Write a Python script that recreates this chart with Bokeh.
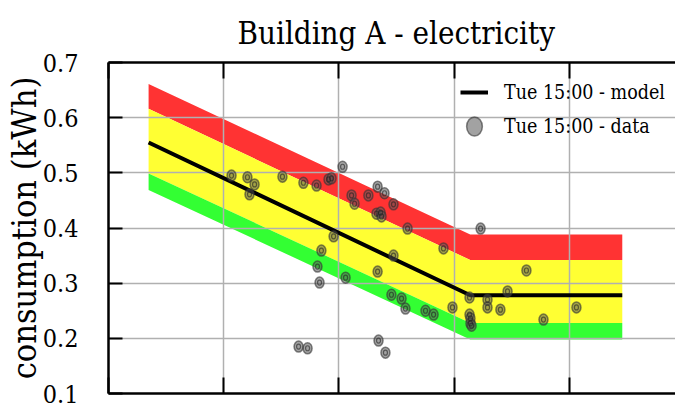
from bokeh.plotting import figure
from bokeh.models import (FixedTicker, LinearAxis, Legend, LegendItem,
                          ColumnDataSource, Range1d)
from bokeh.embed import file_html
from bokeh.resources import INLINE

FONT = "DejaVu Serif Condensed"

# ---- data ----
title_text = "Building A - electricity"
y_label = "consumption (kWh)"
model_label = "Tue 15:00 - model"
data_label = "Tue 15:00 - data"

band_x = [1.74, 15.7, 22.3]
model_kwh = [0.555, 0.278, 0.278]
red_top = [0.661, 0.388, 0.388]
yellow_top = [0.616, 0.342, 0.342]
green_top = [0.499, 0.228, 0.228]
green_bottom = [0.469, 0.198, 0.198]

data_x = [5.34, 6.03, 6.34, 6.12, 7.55, 8.46, 9.03, 9.55, 9.68, 10.16,
          10.55, 10.68, 11.28, 11.68, 11.98, 12.37, 11.63, 11.81, 11.85, 12.98,
          14.54, 16.15, 9.77, 9.24, 9.07, 9.16, 10.29, 11.68, 12.37, 12.28,
          12.72, 12.89, 13.76, 14.11, 8.25, 8.64, 11.72, 12.02, 14.93, 15.67,
          15.67, 15.71, 15.71, 15.76, 16.45, 16.45, 17.01, 17.32, 18.14, 18.88, 20.31]
data_kwh = [0.495, 0.492, 0.479, 0.461, 0.493, 0.482, 0.477, 0.488, 0.490, 0.511,
            0.459, 0.444, 0.459, 0.475, 0.463, 0.443, 0.426, 0.428, 0.421, 0.399,
            0.363, 0.399, 0.385, 0.359, 0.330, 0.301, 0.310, 0.321, 0.350, 0.279,
            0.272, 0.254, 0.250, 0.243, 0.185, 0.182, 0.196, 0.174, 0.256, 0.274,
            0.243, 0.236, 0.227, 0.223, 0.270, 0.256, 0.252, 0.285, 0.323, 0.234, 0.256]

y_ticks = [0.1, 0.2, 0.3, 0.4, 0.5, 0.6, 0.7]
x_ticks = [0, 5, 10, 15, 20]
x_min, x_max = 0, 24.61
y_min, y_max = 0.1, 0.7

# ---- figure ----
p = figure(width=675, height=405, x_range=Range1d(x_min, x_max),
           y_range=Range1d(y_min, y_max), output_backend="svg",
           toolbar_location=None, min_border_left=108, min_border_right=0,
           min_border_top=62, min_border_bottom=12)
p.outline_line_color = None
p.background_fill_color = "white"

p.title.text = title_text
p.title.text_font = FONT
p.title.text_font_size = "31px"
p.title.text_font_style = "normal"
p.title.align = "left"
p.title.offset = 129
p.title.standoff = 24
p.title.text_color = "black"

bottom_axis = p.below[0]
top_axis = LinearAxis()
p.add_layout(top_axis, "above")

for ax in [bottom_axis, top_axis]:
    ax.ticker = FixedTicker(ticks=x_ticks)
    ax.major_label_overrides = {t: "" for t in x_ticks}
    ax.major_label_standoff = 0
    ax.major_tick_in = 16
    ax.major_tick_out = 0
    ax.minor_tick_line_color = None
    ax.axis_line_width = 2.5
    ax.major_tick_line_width = 2
    ax.axis_line_color = "black"
    ax.major_tick_line_color = "black"

ya = p.yaxis[0]
ya.ticker = FixedTicker(ticks=y_ticks)
ya.major_label_overrides = {t: f"{t:.1f}" for t in y_ticks}
ya.major_label_text_font = FONT
ya.major_label_text_font_size = "25px"
ya.major_label_text_color = "black"
ya.major_label_standoff = 30
ya.major_tick_in = 14
ya.major_tick_out = 0
ya.minor_tick_line_color = None
ya.axis_line_width = 2.5
ya.major_tick_line_width = 2
ya.axis_line_color = "black"
ya.major_tick_line_color = "black"
ya.axis_label = y_label
ya.axis_label_text_font = FONT
ya.axis_label_text_font_size = "34px"
ya.axis_label_text_font_style = "normal"
ya.axis_label_text_color = "black"
ya.axis_label_standoff = -4

p.xgrid.ticker = FixedTicker(ticks=x_ticks)
p.ygrid.ticker = FixedTicker(ticks=y_ticks)
for g in [p.xgrid[0], p.ygrid[0]]:
    g.grid_line_color = "#b0b0b0"
    g.grid_line_width = 1.5
    g.level = "underlay"

# ---- bands ----
band_src = ColumnDataSource(dict(x=band_x, model=model_kwh, rt=red_top, yt=yellow_top,
                                 gt=green_top, gb=green_bottom))
p.varea(x="x", y1="yt", y2="rt", source=band_src, fill_color="#ff3333", level="image")
p.varea(x="x", y1="gt", y2="yt", source=band_src, fill_color="#ffff33", level="image")
p.varea(x="x", y1="gb", y2="gt", source=band_src, fill_color="#33ff33", level="image")

# ---- model line ----
r_model = p.line(x="x", y="model", source=band_src, line_color="black", line_width=4)

# ---- data points ----
pts = ColumnDataSource(dict(x=data_x, y=data_kwh))
r_pts = p.ellipse(x="x", y="y", width=9, height=11, width_units="screen",
                  height_units="screen", source=pts, fill_color="#555555",
                  fill_alpha=0.55, line_color="#333333", line_alpha=0.6, line_width=1.5)
r_inner = p.ellipse(x="x", y="y", width=4, height=5, width_units="screen",
                    height_units="screen", source=pts, fill_color=None,
                    line_color="#222222", line_alpha=0.6, line_width=1.2)

legend = Legend(items=[LegendItem(label=model_label, renderers=[r_model]),
                       LegendItem(label=data_label, renderers=[r_pts])],
                location=(352, 255))
legend.label_text_font = FONT
legend.label_text_font_size = "19.5px"
legend.label_text_color = "black"
legend.background_fill_alpha = 0
legend.border_line_color = None
legend.glyph_width = 28
legend.glyph_height = 24
legend.label_height = 24
legend.label_standoff = 16
legend.spacing = 10
legend.padding = 2
legend.margin = 0
p.add_layout(legend, "center")

open("out.html", "w").write(file_html(p, INLINE))
